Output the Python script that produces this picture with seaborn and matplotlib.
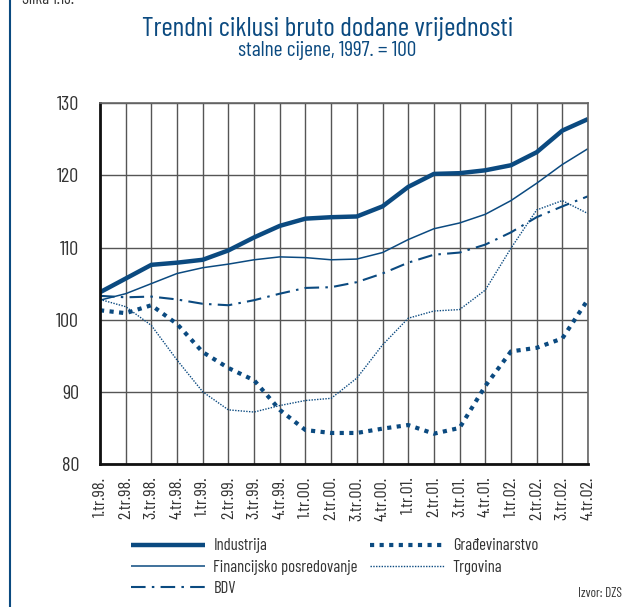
import pandas as pd
import numpy as np
import matplotlib
matplotlib.use('Agg')
import matplotlib.pyplot as plt
import seaborn as sns
from matplotlib.lines import Line2D

quarters = ['1.tr.98.', '2.tr.98.', '3.tr.98.', '4.tr.98.',
            '1.tr.99.', '2.tr.99.', '3.tr.99.', '4.tr.99.',
            '1.tr.00.', '2.tr.00.', '3.tr.00.', '4.tr.00.',
            '1.tr.01.', '2.tr.01.', '3.tr.01.', '4.tr.01.',
            '1.tr.02.', '2.tr.02.', '3.tr.02.', '4.tr.02.']

industrija = [103.8, 105.7, 107.6, 107.9, 108.3, 109.6, 111.4, 113.0, 114.0, 114.2,
              114.3, 115.7, 118.4, 120.2, 120.3, 120.7, 121.4, 123.2, 126.2, 127.8]
financijsko = [102.7, 103.6, 105.0, 106.4, 107.2, 107.7, 108.3, 108.7, 108.6, 108.3,
               108.4, 109.3, 111.1, 112.6, 113.4, 114.6, 116.5, 118.9, 121.5, 123.7]
bdv = [103.3, 103.1, 103.2, 102.8, 102.2, 102.0, 102.7, 103.6, 104.4, 104.5,
       105.2, 106.4, 107.9, 109.0, 109.3, 110.4, 112.1, 114.2, 115.7, 117.1]
gradevinarstvo = [101.3, 100.9, 102.0, 99.4, 95.5, 93.3, 91.6, 87.5, 84.7, 84.3,
                  84.3, 84.9, 85.4, 84.2, 85.0, 90.8, 95.6, 96.1, 97.4, 102.8]
trgovina = [102.8, 101.8, 99.2, 94.4, 90.0, 87.5, 87.2, 88.1, 88.8, 89.1,
            91.9, 96.5, 100.2, 101.2, 101.4, 104.1, 109.9, 115.2, 116.5, 114.7]

blue = '#0b4a80'
grey = '#333333'

df = pd.DataFrame({'q': np.arange(len(quarters)),
                   'Industrija': industrija,
                   'Financijsko posredovanje': financijsko,
                   'BDV': bdv,
                   'Građevinarstvo': gradevinarstvo,
                   'Trgovina': trgovina})

styles = {
    'Industrija': dict(lw=3.2, ls='-'),
    'Financijsko posredovanje': dict(lw=1.1, ls='-'),
    'BDV': dict(lw=1.5, ls=(0, (7, 3, 1.2, 3))),
    'Građevinarstvo': dict(lw=3.0, ls=(0, (1, 1.3))),
    'Trgovina': dict(lw=1.0, ls=(0, (1, 1))),
}

sns.set_style('white')
plt.rcParams['font.family'] = ['Barlow Condensed', 'DejaVu Sans']

fig = plt.figure(figsize=(6.27, 6.07), dpi=100)
ax = fig.add_axes([0.1595, 0.2356, 0.7783, 0.5944])

for name, st in styles.items():
    sns.lineplot(data=df, x='q', y=name, ax=ax, color=blue, linewidth=st['lw'],
                 linestyle=st['ls'], label=name, legend=False, sort=False,
                 solid_capstyle='butt', dash_capstyle='butt')

ax.set_xlim(0, len(quarters) - 1)
ax.set_ylim(80, 130)
ax.set_yticks([80, 90, 100, 110, 120, 130])
ax.set_xticks(df['q'])
ax.set_xticklabels(quarters, rotation=90, fontsize=13, color=grey)
ax.tick_params(axis='y', labelsize=14.5, labelcolor=grey, length=7, width=1, color=grey, direction='out', pad=8)
ax.tick_params(axis='x', length=5, width=1, color=grey, direction='out', pad=4)
ax.set_xlabel('')
ax.set_ylabel('')
ax.grid(True, color='#555555', linewidth=1)
ax.set_axisbelow(True)
for side in ['left', 'bottom']:
    ax.spines[side].set_color('#111111')
    ax.spines[side].set_linewidth(2)
for side in ['top', 'right']:
    ax.spines[side].set_color('#666666')
    ax.spines[side].set_linewidth(1.2)

fig.text(0.522, 0.953, 'Trendni ciklusi bruto dodane vrijednosti', ha='center', va='center',
         fontsize=19.8, color=blue)
fig.text(0.522, 0.916, 'stalne cijene, 1997. = 100', ha='center', va='center',
         fontsize=15.5, color=blue)
fig.text(0.035, 1.0, 'Slika 1.13.', ha='left', va='center', fontsize=12, color=grey)
fig.text(0.992, 0.022, 'Izvor: DZS', ha='right', va='center', fontsize=9.5, color=grey)
fig.add_artist(Line2D([0.0155, 0.0155], [0, 1], transform=fig.transFigure, color=blue, lw=1.5))

handles, labels = ax.get_legend_handles_labels()
leg = fig.legend(handles, labels, ncol=2, loc='upper left', bbox_to_anchor=(0.198, 0.124),
                 frameon=False, fontsize=12, handlelength=4.45, columnspacing=0.75,
                 handletextpad=0.5, labelspacing=0.37, borderaxespad=0)
for t in leg.get_texts():
    t.set_color(grey)

fig.savefig('out.png', dpi=100)
